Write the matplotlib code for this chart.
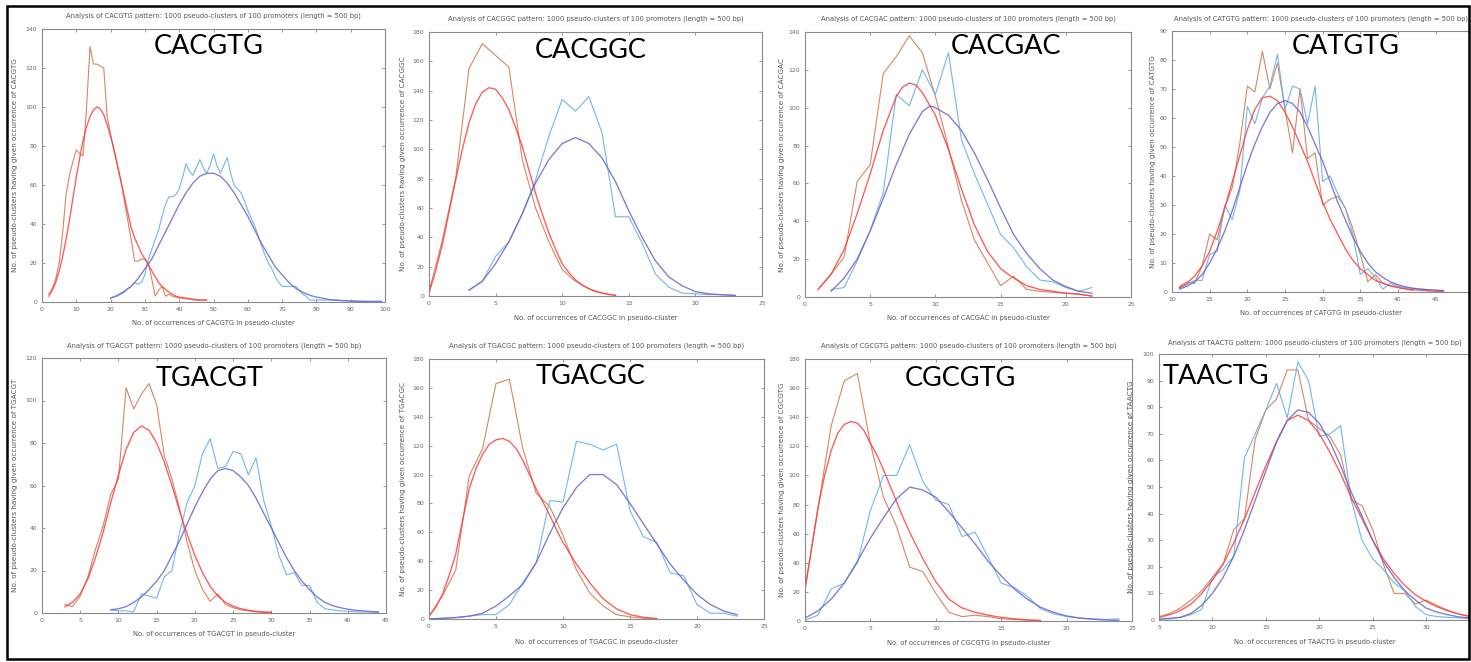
import matplotlib
matplotlib.use("Agg")
import matplotlib.pyplot as plt
import numpy as np
from matplotlib.patches import Rectangle

W, H = 1471, 662

# ---- data ----------------------------------------------------------------
# each panel: observed series start at an integer x and step by 1
CACGTG_RED_OBS_X0 = 2
CACGTG_RED_OBS = [4, 7, 12, 20, 35, 55, 65, 72, 78, 76, 75, 100, 131, 122, 122, 121, 120,
                  95, 86, 78, 70, 62, 52, 42, 32, 21, 21, 22, 22, 20, 12, 3, 6, 8, 3, 4,
                  3, 2.5, 2, 2, 1.5, 1.5, 1, 1, 1, 1, 1]
CACGTG_RED_FIT_X = [2, 3, 4, 5, 6, 7, 8, 9, 10, 11, 12, 13, 14, 15, 16, 17, 18, 19, 20, 21,
                    22, 23, 24, 25, 26, 27, 28, 29, 30, 31, 32, 33, 34, 35, 36, 37, 38, 39,
                    40, 42, 44, 46, 48]
CACGTG_RED_FIT = [3, 6, 10, 16, 23, 32, 42, 53, 64, 74, 83, 90, 95, 98.5, 100, 99, 96, 91,
                  85, 78, 70, 62, 54, 46, 38, 33, 29, 25, 22, 19, 16, 13, 10, 8, 6.5, 5, 4,
                  3, 2.5, 2, 1.5, 1, 1]
CACGTG_BLUE_OBS_X0 = 20
CACGTG_BLUE_OBS = [2, 2.5, 3, 4, 5, 7, 8, 10, 9, 10, 14, 22, 27, 32, 37, 44, 50, 54, 54, 55,
                   58, 64, 71, 67, 65, 69, 73, 69, 66, 70, 76, 70, 66, 70, 74, 66, 60, 58,
                   56, 52, 47, 43, 39, 34, 29, 24, 20, 17, 13, 10, 8, 8, 8, 8, 8, 6, 4, 3,
                   1, 1, 1, 1, 1, 1, 1, 1, 1, 0.8, 0.8, 0.8, 0.6, 0.6, 0.5, 0.5, 0.5, 0.5,
                   0.5, 0.5, 0.5, 0.5]
CACGTG_BLUE_FIT_X = [20, 22, 24, 26, 28, 30, 32, 34, 36, 38, 40, 42, 44, 46, 48, 50, 52, 54,
                     56, 58, 60, 62, 64, 66, 68, 70, 72, 74, 76, 78, 80, 84, 88, 92, 96, 99]
CACGTG_BLUE_FIT = [2, 3.5, 5.5, 8, 12, 17, 22, 29, 36, 43, 50, 56, 61, 64.5, 66, 66, 64.5,
                   61, 56, 50, 44, 37, 30, 24, 18, 14, 10, 7, 5, 3.5, 2.5, 1.2, 0.6, 0.3,
                   0.1, 0.1]

CACGGC_RED_OBS_X0 = 0
CACGGC_RED_OBS = [3, 38, 80, 155, 172, 164, 156, 93, 60, 37, 18, 10, 5, 2, 0.5]
CACGGC_RED_FIT_X = [0, 0.5, 1, 1.5, 2, 2.5, 3, 3.5, 4, 4.5, 5, 5.5, 6, 6.5, 7, 7.5, 8, 8.5,
                    9, 9.5, 10, 10.5, 11, 11.5, 12, 12.5, 13, 13.5, 14]
CACGGC_RED_FIT = [2, 17, 35, 57, 79, 100, 118, 131, 139, 142, 141, 135, 127, 115, 102, 86,
                  70, 56, 43, 32, 22, 16, 11, 7.5, 5, 3, 2, 1, 0.5]
CACGGC_BLUE_OBS_X0 = 3
CACGGC_BLUE_OBS = [4, 10, 27, 37, 56, 79, 109, 134, 126, 136, 111, 54, 54, 36, 15, 6, 2,
                   1.5, 1, 1, 0.5]
CACGGC_BLUE_FIT_X = [3, 4, 5, 6, 7, 7.5, 8, 9, 10, 11, 12, 13, 14, 15, 16, 17, 18, 19, 20,
                     21, 22, 23]
CACGGC_BLUE_FIT = [4, 10, 22, 37, 56, 67, 77, 93, 104, 108, 104, 94, 78, 58, 40, 24, 13, 7,
                   3, 1.5, 0.8, 0.3]

CACGAC_RED_OBS_X0 = 1
CACGAC_RED_OBS = [4, 12, 21, 61, 70, 118, 127, 138, 129, 106, 79, 51, 30, 18, 6, 11, 4, 3,
                  2.5, 2, 1.5, 0.5]
CACGAC_RED_FIT_X = [1, 2, 3, 4, 5, 6, 7, 7.5, 8, 8.5, 9, 10, 11, 12, 13, 14, 15, 16, 17, 18,
                    19, 20, 21, 22]
CACGAC_RED_FIT = [4, 12, 25, 44, 65, 88, 106, 111, 113, 112, 108, 96, 78, 57, 38, 24, 15,
                  10, 6, 4, 3, 2, 1.5, 0.5]
CACGAC_BLUE_OBS_X0 = 2
CACGAC_BLUE_OBS = [4, 5, 19, 35, 55, 107, 101, 120, 107, 129, 83, 65, 49, 33, 26, 16, 9, 8,
                   5, 3, 5]
CACGAC_BLUE_FIT_X = [2, 3, 4, 5, 6, 7, 8, 9, 9.6, 10, 11, 12, 13, 14, 15, 16, 17, 18, 19,
                     20, 21, 22]
CACGAC_BLUE_FIT = [3, 10, 20, 35, 52, 70, 86, 98, 101, 100, 96, 88, 76, 62, 47, 33, 23, 15,
                   9, 5.5, 3, 2]

CATGTG_RED_OBS_X0 = 11
CATGTG_RED_OBS = [2, 3.5, 3, 9, 20, 18, 29, 36, 51, 71, 69, 83, 70, 79, 63, 48, 70, 46, 48,
                  30, 32, 33, 29, 22, 13, 3.5, 6, 3, 2, 1.5, 1, 0.5]
CATGTG_RED_FIT_X = [11, 12, 13, 14, 15, 16, 17, 18, 19, 20, 21, 22, 23, 24, 25, 26, 27, 28,
                    29, 30, 31, 32, 33, 34, 35, 36, 37, 38, 39, 40, 41, 42, 44, 46]
CATGTG_RED_FIT = [1.5, 3, 5.5, 9, 14, 21, 29, 38, 47, 56, 63, 67, 67.5, 66, 62, 57, 51, 45,
                  38, 31, 25, 20, 15, 11, 8, 6, 4, 3, 2.2, 1.6, 1.1, 0.8, 0.4, 0.2]
CATGTG_BLUE_OBS_X0 = 11
CATGTG_BLUE_OBS = [1.5, 2.5, 4, 4, 13, 14, 30, 25, 35, 64, 58, 67, 71, 82, 63, 71, 70, 58,
                   71, 38, 40, 34, 29, 20, 6, 8, 5, 1, 3, 2, 1.5, 1.2, 1, 0.8, 0.6, 0.5]
CATGTG_BLUE_FIT_X0 = 11
CATGTG_BLUE_FIT = [1, 2, 3.5, 6, 10, 15, 21, 28, 36, 44, 51, 57, 62, 65, 66, 65, 62, 57, 51,
                   45, 38, 31, 25, 19, 14, 10, 7, 5, 3.5, 2.5, 1.8, 1.3, 1, 0.8, 0.6, 0.5]

TGACGT_RED_OBS_X0 = 3
TGACGT_RED_OBS = [4, 3, 8, 17, 30, 41, 56, 63, 106, 96, 103, 108, 98, 74, 63, 49, 33, 20,
                  11, 5.5, 9, 4, 2.5, 1.5, 1, 0.5, 0.3, 0.2]
TGACGT_RED_FIT_X0 = 3
TGACGT_RED_FIT = [3, 5, 9, 16, 26, 38, 52, 65, 77, 85, 88, 86, 80, 71, 60, 48, 37, 27, 19,
                  12.5, 8, 5, 3.2, 2, 1.3, 0.8, 0.5, 0.3]
TGACGT_BLUE_OBS_X0 = 9
TGACGT_BLUE_OBS = [1.5, 1, 1, 0.5, 9, 8, 7, 17, 20, 38, 52, 60, 75, 82, 68, 69, 76, 75, 65,
                   73, 53, 41, 27, 18, 19, 13, 13, 5, 2, 1.5, 1, 0.8, 0.6, 0.5, 0.4, 0.3]
TGACGT_BLUE_FIT_X0 = 9
TGACGT_BLUE_FIT = [1.5, 2, 3, 5, 7.5, 11, 15, 20, 27, 34, 42, 50, 57, 63, 67, 68, 67, 64,
                   60, 54, 47, 40, 33, 26, 20, 15, 11, 7.5, 5, 3.5, 2.5, 1.8, 1.3, 1, 0.7, 0.5]

TGACGC_RED_OBS_X0 = 0
TGACGC_RED_OBS = [2, 16, 34, 99, 118, 163, 166, 118, 87, 78, 58, 34, 18, 9, 3, 1.5, 0.5, 0.2]
TGACGC_RED_FIT_X = [0, 0.5, 1, 1.5, 2, 2.5, 3, 3.5, 4, 4.5, 5, 5.5, 6, 6.5, 7, 7.5, 8, 8.5,
                    9, 9.5, 10, 11, 12, 13, 14, 15, 16, 17]
TGACGC_RED_FIT = [2, 8, 17, 30, 45, 68, 90, 104, 114, 121, 124, 125, 123, 118, 110, 100, 90,
                  81, 72, 62, 53, 38, 25, 14, 7, 3, 1.2, 0.3]
TGACGC_BLUE_OBS_X0 = 0
TGACGC_BLUE_OBS = [0, 0.5, 1, 2, 3, 3, 10, 25, 39, 82, 81, 123, 121, 117, 121, 75, 57, 53,
                   32, 30, 10, 4, 4, 2]
TGACGC_BLUE_FIT_X0 = 0
TGACGC_BLUE_FIT = [0, 0.5, 1, 2, 4, 9, 16, 24, 39, 59, 77, 91, 100, 100, 93, 80, 66, 52, 38,
                   27, 17, 10, 5.5, 3]

CGCGTG_RED_OBS_X0 = 0
CGCGTG_RED_OBS = [21, 78, 134, 165, 170, 122, 85, 65, 37, 34, 19, 6, 3, 4, 3, 1.5, 1, 0.5,
                  0.3]
CGCGTG_RED_FIT_X = [0, 0.5, 1, 1.5, 2, 2.5, 3, 3.5, 4, 4.5, 5, 5.5, 6, 6.5, 7, 7.5, 8, 8.5,
                    9, 9.5, 10, 10.5, 11, 12, 13, 14, 15, 16, 17, 18]
CGCGTG_RED_FIT = [22, 50, 78, 100, 117, 129, 135, 137, 136, 131, 122, 114, 104, 93, 82, 71,
                  61, 52, 43, 35, 27, 21, 15, 9, 6, 4, 2.5, 1.5, 0.8, 0.4]
CGCGTG_BLUE_OBS_X0 = 0
CGCGTG_BLUE_OBS = [0.5, 4, 22, 26, 40, 76, 100, 100, 121, 96, 83, 80, 58, 61, 44, 26, 23, 17,
                   8.5, 5, 3, 2, 1.5, 1, 1.5]
CGCGTG_BLUE_FIT_X0 = 0
CGCGTG_BLUE_FIT = [2, 7, 15, 26, 41, 57, 71, 84, 92, 90, 85, 75, 64, 53, 41, 31, 22, 15, 9.5,
                   6, 3.5, 2, 1.2, 0.7, 0.4]

TAACTG_RED_OBS_X0 = 5
TAACTG_RED_OBS = [1.2, 2.5, 4.5, 7.5, 11, 16, 21, 34, 38, 68, 79, 83, 94, 94, 75, 72, 69, 62,
                  45, 43, 34, 21, 10, 10, 6, 7.5, 5.5, 3.7, 2.3, 1.3]
TAACTG_RED_FIT_X0 = 5
TAACTG_RED_FIT = [1, 2, 3.5, 6, 10, 15, 21, 29, 38, 48, 58, 67, 75, 77, 75, 70, 63, 55, 46,
                  38, 30, 23, 17.5, 13, 9.5, 7, 5, 3.5, 2.3, 1.5]
TAACTG_BLUE_OBS_X0 = 5
TAACTG_BLUE_OBS = [0.5, 0.5, 1, 2, 4, 16, 19, 24, 61, 70, 79, 89, 76, 97, 90, 69, 70, 73, 45,
                   30, 23, 19, 14, 11, 5, 2, 1.3, 1, 0.8, 0.5]
TAACTG_BLUE_FIT_X0 = 5
TAACTG_BLUE_FIT = [0.3, 0.6, 1, 2.5, 5.5, 10, 16, 24, 34, 45, 56, 67, 75, 79, 78, 74, 67, 58,
                   48, 39, 30, 22, 16, 11, 7.5, 4.5, 3, 2, 1.2, 0.8]


def steps(x0, ys):
    return np.arange(len(ys)) + x0, ys


# name, red obs, red fit, blue obs, blue fit, xlim, ylim, xticks, yticks
PANELS = [
    ("CACGTG", steps(CACGTG_RED_OBS_X0, CACGTG_RED_OBS), (CACGTG_RED_FIT_X, CACGTG_RED_FIT),
     steps(CACGTG_BLUE_OBS_X0, CACGTG_BLUE_OBS), (CACGTG_BLUE_FIT_X, CACGTG_BLUE_FIT),
     (0, 100), (0, 140), range(0, 101, 10), range(0, 141, 20)),
    ("CACGGC", steps(CACGGC_RED_OBS_X0, CACGGC_RED_OBS), (CACGGC_RED_FIT_X, CACGGC_RED_FIT),
     steps(CACGGC_BLUE_OBS_X0, CACGGC_BLUE_OBS), (CACGGC_BLUE_FIT_X, CACGGC_BLUE_FIT),
     (0, 25), (0, 180), range(0, 26, 5), range(0, 181, 20)),
    ("CACGAC", steps(CACGAC_RED_OBS_X0, CACGAC_RED_OBS), (CACGAC_RED_FIT_X, CACGAC_RED_FIT),
     steps(CACGAC_BLUE_OBS_X0, CACGAC_BLUE_OBS), (CACGAC_BLUE_FIT_X, CACGAC_BLUE_FIT),
     (0, 25), (0, 140), range(0, 26, 5), range(0, 141, 20)),
    ("CATGTG", steps(CATGTG_RED_OBS_X0, CATGTG_RED_OBS), (CATGTG_RED_FIT_X, CATGTG_RED_FIT),
     steps(CATGTG_BLUE_OBS_X0, CATGTG_BLUE_OBS), steps(CATGTG_BLUE_FIT_X0, CATGTG_BLUE_FIT),
     (10, 49.7), (0, 90), range(10, 46, 5), range(0, 91, 10)),
    ("TGACGT", steps(TGACGT_RED_OBS_X0, TGACGT_RED_OBS), steps(TGACGT_RED_FIT_X0, TGACGT_RED_FIT),
     steps(TGACGT_BLUE_OBS_X0, TGACGT_BLUE_OBS), steps(TGACGT_BLUE_FIT_X0, TGACGT_BLUE_FIT),
     (0, 45), (0, 120), range(0, 46, 5), range(0, 121, 20)),
    ("TGACGC", steps(TGACGC_RED_OBS_X0, TGACGC_RED_OBS), (TGACGC_RED_FIT_X, TGACGC_RED_FIT),
     steps(TGACGC_BLUE_OBS_X0, TGACGC_BLUE_OBS), steps(TGACGC_BLUE_FIT_X0, TGACGC_BLUE_FIT),
     (0, 25), (0, 180), range(0, 26, 5), range(0, 181, 20)),
    ("CGCGTG", steps(CGCGTG_RED_OBS_X0, CGCGTG_RED_OBS), (CGCGTG_RED_FIT_X, CGCGTG_RED_FIT),
     steps(CGCGTG_BLUE_OBS_X0, CGCGTG_BLUE_OBS), steps(CGCGTG_BLUE_FIT_X0, CGCGTG_BLUE_FIT),
     (0, 25), (0, 180), range(0, 26, 5), range(0, 181, 20)),
    ("TAACTG", steps(TAACTG_RED_OBS_X0, TAACTG_RED_OBS), steps(TAACTG_RED_FIT_X0, TAACTG_RED_FIT),
     steps(TAACTG_BLUE_OBS_X0, TAACTG_BLUE_OBS), steps(TAACTG_BLUE_FIT_X0, TAACTG_BLUE_FIT),
     (5, 34.2), (0, 100), range(5, 31, 5), range(0, 101, 10)),
]

# pixel boxes: left, right, top, bottom; title y, xlabel y, ylabel x, big label centre
BOXES = [
    (42, 385, 29, 302, 16, 323, 15, (209, 47)),
    (429, 762, 32, 296, 19, 318, 403, (591, 50)),
    (805, 1131, 32, 297, 19, 318, 782, (1006, 46)),
    (1172, 1471, 31, 292, 19, 313, 1153, (1346, 46)),
    (42, 386, 358, 613, 346, 634, 15, (210, 378)),
    (429, 764, 359, 619, 346, 642, 403, (591, 376)),
    (805, 1132, 359, 621, 346, 643, 782, (960, 379)),
    (1159, 1471, 354, 620, 343, 642, 1131, (1216, 376)),
]

RED_OBS = "#d07a52"
RED_FIT = "#ff3b3b"
BLUE_OBS = "#62aeee"
BLUE_FIT = "#6a62cc"
GREY = "#555555"

fig = plt.figure(figsize=(W / 100, H / 100), dpi=100, facecolor="white")

for (name, ro, rf, bo, bf, xlim, ylim, xt, yt), box in zip(PANELS, BOXES):
    l, r, t, b, ty, xly, ylx, (bx, by) = box
    ax = fig.add_axes([l / W, 1 - b / H, (r - l) / W, (b - t) / H])
    ax.plot(*ro, color=RED_OBS, lw=0.8, alpha=0.9)
    ax.plot(*bo, color=BLUE_OBS, lw=0.8, alpha=0.9)
    ax.plot(*rf, color=RED_FIT, lw=0.95, alpha=0.85)
    ax.plot(*bf, color=BLUE_FIT, lw=0.95, alpha=0.85)
    ax.set_xlim(*xlim)
    ax.set_ylim(*ylim)
    ax.set_xticks(list(xt))
    ax.set_yticks(list(yt))
    ax.tick_params(direction="in", length=2.5, width=0.6, colors="#888888",
                   labelcolor="#666666", labelsize=4.4, top=True, right=True, pad=3.5)
    for s in ax.spines.values():
        s.set_color("#8a8a8a")
        s.set_linewidth(0.8)
    if r >= W:
        ax.spines["right"].set_visible(False)
        ax.tick_params(right=False)

    cx = (l + min(r, W)) / 2
    fig.text(cx / W, 1 - ty / H,
             f"Analysis of {name} pattern: 1000 pseudo-clusters of 100 promoters (length = 500 bp)",
             ha="center", va="center", fontsize=4.9, color=GREY)
    fig.text(cx / W, 1 - xly / H, f"No. of occurrences of {name} in pseudo-cluster",
             ha="center", va="center", fontsize=4.9, color=GREY)
    fig.text(ylx / W, 1 - (t + b) / 2 / H,
             f"No. of pseudo-clusters having given occurrence of {name}",
             ha="center", va="center", rotation=90, fontsize=5.2, color=GREY)
    fig.text(bx / W, 1 - by / H, name, ha="center", va="center",
             fontsize=19.5, family="Lato", color="black")

fig.add_artist(Rectangle((7 / W, 1 - 659 / H), (1469 - 7) / W, (659 - 6) / H,
                         transform=fig.transFigure, fill=False, edgecolor="black",
                         linewidth=1.8, zorder=10))

fig.savefig("out.png", dpi=100, facecolor="white")
